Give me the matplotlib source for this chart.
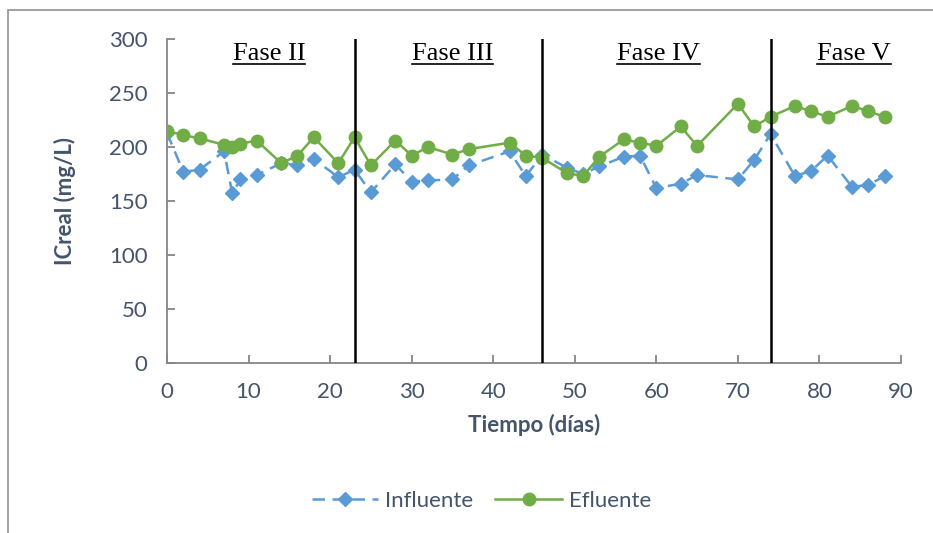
import matplotlib.pyplot as plt
from matplotlib.patches import Rectangle

# tiempo (dias)
dias = [0, 2, 4, 7, 8, 9, 11, 14, 16, 18, 21, 23, 25, 28, 30, 32, 35, 37, 42, 44,
        46, 49, 51, 53, 56, 58, 60, 63, 65, 70, 72, 74, 77, 79, 81, 84, 86, 88]

influente = [213, 177, 179, 196, 157, 170, 174, 185, 183, 189, 172, 179, 158, 184,
             168, 169, 170, 183, 196, 173, 193, 181, 175, 182, 191, 192, 162, 166,
             174, 170, 188, 212, 173, 178, 192, 163, 165, 173]

efluente = [215, 211, 208, 202, 200, 203, 206, 185, 192, 209, 185, 209, 183, 206,
            192, 200, 193, 198, 204, 192, 190, 176, 173, 191, 207, 204, 201, 219,
            201, 240, 219, 228, 238, 233, 228, 238, 233, 228]

cortes = [23, 46, 74]
fases = ["Fase II", "Fase III", "Fase IV", "Fase V"]
fase_x = [12.5, 35, 60.3, 84.2]

txt = '#44546A'
eje = '#868686'
plt.rcParams['font.family'] = ['Lato', 'DejaVu Sans']

fig = plt.figure(figsize=(9.33, 5.33), dpi=100)
fig.patches.append(Rectangle((8/933, -0.1), 1.2, 0.1 + 1 - 10/533, transform=fig.transFigure,
                             fill=False, edgecolor='#9a9a9a', linewidth=1.3))
ax = fig.add_axes([167/933, 1 - 363/533, (901 - 167)/933, (363 - 39)/533])

ax.plot(dias, influente, color='#5B9BD5', linestyle=(0, (5, 3)), linewidth=1.8,
        marker='D', markersize=7, label='Influente', zorder=3)
ax.plot(dias, efluente, color='#70AD47', linewidth=1.8,
        marker='o', markersize=9, label='Efluente', zorder=4)

for c in cortes:
    ax.plot([c, c], [0, 300], color='black', linewidth=1.8, zorder=5)

etiquetas = []
for f, x in zip(fases, fase_x):
    etiquetas.append(ax.text(x, 286, f, ha='center', va='center', fontsize=19,
                             family=['Liberation Serif'], color='black'))

ax.set_xlim(0, 90)
ax.set_ylim(0, 300)
ax.set_xticks(range(0, 91, 10))
ax.set_yticks(range(0, 301, 50))
for s in ['top', 'right']:
    ax.spines[s].set_visible(False)
for s in ['left', 'bottom']:
    ax.spines[s].set_color(eje)
    ax.spines[s].set_linewidth(1.3)
ax.tick_params(direction='in', length=6, width=1.3, color=eje, labelcolor=txt,
               labelsize=16)
ax.tick_params(axis='x', pad=14)
ax.tick_params(axis='y', pad=14)

ax.set_xlabel('Tiempo (días)', fontsize=16, fontweight='bold', color=txt, labelpad=8)
ax.set_ylabel('ICreal (mg/L)', fontsize=16, fontweight='bold', color=txt, labelpad=24)

leg = ax.legend(loc='center', bbox_to_anchor=(0.428, -0.425), ncol=2, frameon=False,
                fontsize=16, handlelength=3.0, handletextpad=0.3, columnspacing=1.0)
for t in leg.get_texts():
    t.set_color(txt)

fig.canvas.draw()
# subrayado de las fases
r = fig.canvas.get_renderer()
for tx in etiquetas:
    bb = tx.get_window_extent(r).transformed(ax.transData.inverted())
    ax.plot([bb.x0, bb.x1], [bb.y0 + 1.5, bb.y0 + 1.5], color='black', linewidth=1.2,
            clip_on=False)

fig.savefig('out.png', dpi=100)
